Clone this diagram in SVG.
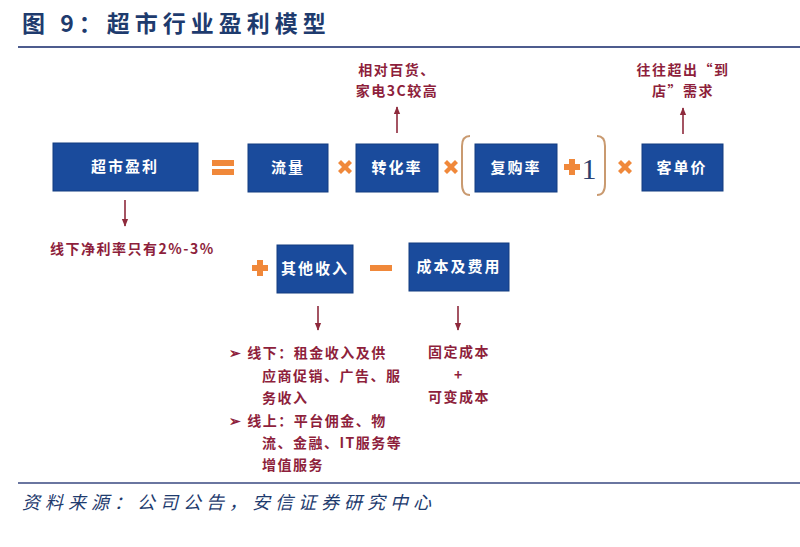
<svg xmlns="http://www.w3.org/2000/svg" width="800" height="547" viewBox="0 0 800 547">
<defs>
<style>
.box{fill:#1a4b9c;stroke:#133c80;stroke-width:1}
.bt{fill:#fff;font-family:"Noto Sans CJK SC","Noto Sans CJK JP",sans-serif;font-weight:bold;font-size:15px;text-anchor:middle;letter-spacing:2px}
.rt{fill:#8e1f3c;font-family:"Noto Sans CJK SC","Noto Sans CJK JP",sans-serif;font-weight:bold;font-size:14px;letter-spacing:1.5px}
.op{fill:#f0883a}
.arr{stroke:#8e2a3c;stroke-width:1.6;fill:none}
</style>
<marker id="ah" viewBox="0 0 10 10" refX="9" refY="5" markerWidth="5" markerHeight="5" orient="auto">
<path d="M0,1 L10,5 L0,9 z" fill="#8e2a3c"/>
</marker>
<g id="times"><path d="M-7,-4 L-4,-7 L0,-3 L4,-7 L7,-4 L3,0 L7,4 L4,7 L0,3 L-4,7 L-7,4 L-3,0 z"/></g>
<g id="plus"><path d="M-3,-8 H3 V-3 H8 V3 H3 V8 H-3 V3 H-8 V-3 H-3 z"/></g>
</defs>
<rect width="800" height="547" fill="#fff"/>
<text x="22" y="32" font-family="'Noto Sans CJK SC',sans-serif" font-weight="bold" font-size="23" fill="#1e3b6e" letter-spacing="5">图 9：超市行业盈利模型</text>
<line x1="18" y1="47" x2="800" y2="47" stroke="#4d5c8e" stroke-width="2"/>

<g id="n-profit"><rect class="box" x="53" y="143" width="145" height="48"/><text class="bt" x="125" y="172">超市盈利</text></g>
<g id="n-traffic"><rect class="box" x="248" y="144" width="80" height="48"/><text class="bt" x="288" y="173">流量</text></g>
<g id="n-conv"><rect class="box" x="356" y="144" width="82" height="48"/><text class="bt" x="397" y="173">转化率</text></g>
<g id="n-rep"><rect class="box" x="475" y="144" width="82" height="48"/><text class="bt" x="516" y="173">复购率</text></g>
<g id="n-price"><rect class="box" x="642" y="144" width="81" height="47"/><text class="bt" x="682" y="173">客单价</text></g>
<g id="n-other"><rect class="box" x="277" y="245" width="76" height="48"/><text class="bt" x="315" y="274">其他收入</text></g>
<g id="n-cost"><rect class="box" x="409" y="243" width="100" height="48"/><text class="bt" x="459" y="272">成本及费用</text></g>

<g id="operators" class="op">
<rect x="212" y="160" width="22" height="6"/><rect x="212" y="169" width="22" height="6"/>
<use href="#times" x="345" y="167"/>
<use href="#times" x="451" y="167"/>
<use href="#plus" x="572" y="167"/>
<use href="#times" x="625" y="167"/>
<use href="#plus" x="260" y="268"/>
<rect x="370" y="265" width="22" height="6"/>
</g>
<path d="M470,136 Q462,136 462,146 V184 Q462,195 470,195" fill="none" stroke="#c99a70" stroke-width="2"/>
<path d="M597,136 Q605,136 605,146 V184 Q605,195 597,195" fill="none" stroke="#c99a70" stroke-width="2"/>
<text x="589" y="179" font-family="'Liberation Serif',serif" font-size="30" fill="#2a3f6e" text-anchor="middle">1</text>

<g id="connectors">
<line class="arr" x1="397" y1="133" x2="397" y2="107" marker-end="url(#ah)"/>
<line class="arr" x1="683" y1="134" x2="683" y2="108" marker-end="url(#ah)"/>
<line class="arr" x1="125" y1="200" x2="125" y2="226" marker-end="url(#ah)"/>
<line class="arr" x1="318" y1="306" x2="318" y2="330" marker-end="url(#ah)"/>
<line class="arr" x1="458" y1="306" x2="458" y2="330" marker-end="url(#ah)"/>
</g>

<g id="labels">
<text class="rt" x="397" y="75" text-anchor="middle">相对百货、</text>
<text class="rt" x="397" y="96" text-anchor="middle">家电3C较高</text>
<text class="rt" x="683" y="75" text-anchor="middle">往往超出“到</text>
<text class="rt" x="683" y="96" text-anchor="middle">店”需求</text>
<text class="rt" x="50" y="254">线下净利率只有2%-3%</text>
<text class="rt" x="229" y="358">➢ 线下：租金收入及供</text>
<text class="rt" x="262" y="381">应商促销、广告、服</text>
<text class="rt" x="262" y="403">务收入</text>
<text class="rt" x="229" y="426">➢ 线上：平台佣金、物</text>
<text class="rt" x="262" y="448">流、金融、IT服务等</text>
<text class="rt" x="262" y="470">增值服务</text>
<text class="rt" x="459" y="357" text-anchor="middle">固定成本</text>
<text class="rt" x="459" y="380" text-anchor="middle">+</text>
<text class="rt" x="459" y="402" text-anchor="middle">可变成本</text>
</g>

<line x1="18" y1="483" x2="800" y2="483" stroke="#6a76a0" stroke-width="2"/>
<text x="22" y="509" font-family="'Noto Sans CJK SC',sans-serif" font-style="italic" font-size="18" fill="#1e3b6e" letter-spacing="5">资料来源：公司公告，安信证券研究中心</text>
</svg>
